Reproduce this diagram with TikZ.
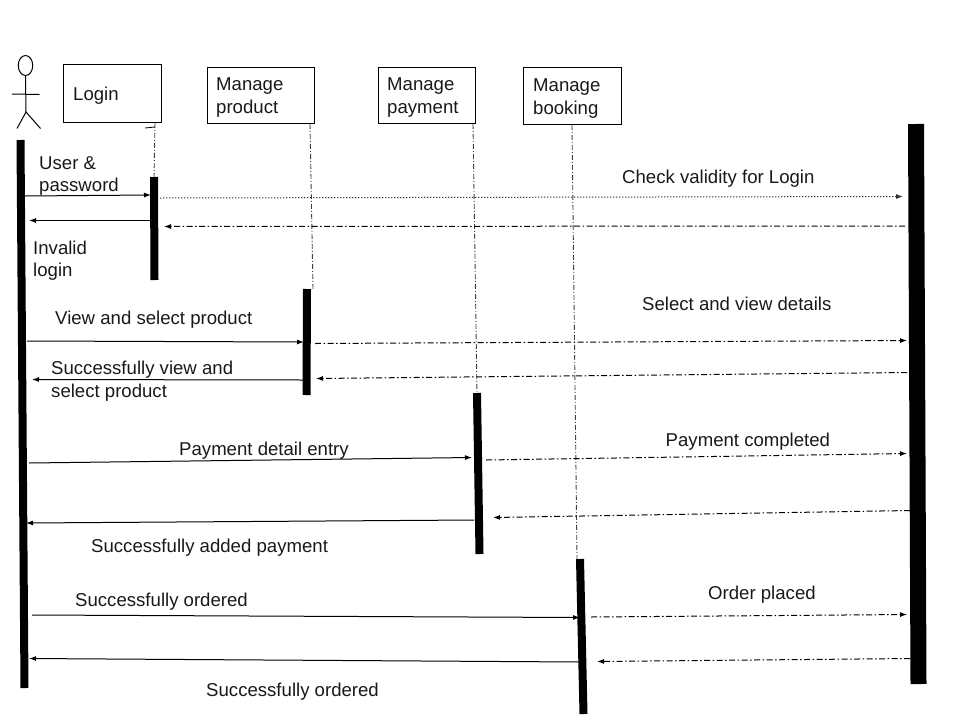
\documentclass[tikz,border=0pt]{standalone}
\usepackage{fontspec}
\setmainfont{Liberation Sans}
\usetikzlibrary{arrows.meta,shapes.geometric}
\tikzset{
  lifebox/.style={draw=black,line width=1pt,minimum width=#1,minimum height=57pt,inner sep=0pt},
  lbl/.style={anchor=base west,inner sep=0pt,font=\fontsize{18.6}{22.5}\selectfont,align=left,text=black!90},
  bar/.style={line width=#1,draw=black},
  life/.style={draw=black!75,line width=.9pt,dash pattern=on 5pt off 2pt on 1pt off 2pt},
  msg/.style={draw=black,line width=1pt,-{Latex[length=7pt,width=5pt]}},
  dd/.style={draw=black,line width=1pt,dash pattern=on 6pt off 2.5pt on 1.5pt off 2.5pt,-{Latex[length=7pt,width=5pt]}},
  dt/.style={draw=black!80,line width=1pt,dash pattern=on 1.3pt off 1.7pt,-{Latex[length=7pt,width=5pt]}},
  stick/.style={draw=black,line width=1pt}
}
\begin{document}
\begin{tikzpicture}[x=1pt,y=-1pt]
\useasboundingbox (0,0) rectangle (960,720);
% boxes
\node[lifebox=97.5pt,minimum height=58pt] (login) at (112.25,93.5) {};
\node[lifebox=107pt,minimum height=56.5pt] (product) at (260.5,95.25) {};
\node[lifebox=96.5pt,minimum height=56.5pt] (payment) at (426.75,95.25) {};
\node[lifebox=97.5pt] (booking) at (572.25,96) {};
\node[lbl] (tlogin) at (73,100.5) {Login};
\node[lbl] (tproduct) at (216,113) {Manage\\product};
\node[lbl] (tpayment) at (387,113) {Manage\\payment};
\node[lbl] (tbooking) at (533,114) {Manage\\booking};
% actor
\node[draw=black,line width=1pt,ellipse,minimum width=14.5pt,minimum height=20pt,inner sep=0pt] (head) at (25.5,65.5) {};
\coordinate (hip) at (26,112);
\coordinate (armL) at (12,94);
\coordinate (armR) at (39.5,94.5);
\coordinate (legL) at (17,128.5);
\coordinate (legR) at (40.5,128.5);
\draw[stick] (head.south) -- (hip);
\draw[stick] (armL) -- (armR);
\draw[stick] (legL) -- (hip) -- (legR);
% bar ends
\coordinate (a0) at (20.5,140); \coordinate (a1) at (24.5,688);
\coordinate (l0) at (154,177); \coordinate (l1) at (154.5,280);
\coordinate (p0) at (307,289); \coordinate (p1) at (306.5,395);
\coordinate (q0) at (477,393); \coordinate (q1) at (479.5,554);
\coordinate (b0) at (580,559); \coordinate (b1) at (583.5,714);
\coordinate (s0) at (916,124); \coordinate (s1) at (918.5,684);
% lifelines
\coordinate (lt0) at (145,128); \coordinate (lt1) at (155,127);
\coordinate (ls) at (155,123); \coordinate (ps) at (310,124); \coordinate (qs) at (473,124); \coordinate (bs) at (572,125);
\coordinate (pe) at (313,289); \coordinate (be) at (577,559);
\draw[life] (ls) -- (l0);
\draw[stick,line width=.8pt] (lt0) -- (lt1);
\draw[life] (ps) -- (pe);
\draw[life] (qs) -- (q0);
\draw[life] (bs) -- (be);
% bars
\draw[bar=8pt] (a0) -- (a1);
\draw[bar=8pt] (l0) -- (l1);
\draw[bar=8pt] (p0) -- (p1);
\draw[bar=8pt] (q0) -- (q1);
\draw[bar=8pt] (b0) -- (b1);
\draw[bar=16pt] (s0) -- (s1);
% message end points
\coordinate (m1a) at (25,196); \coordinate (m1b) at (151,195);
\coordinate (m2a) at (150,220.5); \coordinate (m2b) at (29,220.5);
\coordinate (m3a) at (160,198); \coordinate (m3b) at (903,196.5);
\coordinate (m4a) at (905,226); \coordinate (m4b) at (164,226.5);
\coordinate (m5a) at (27,341); \coordinate (m5b) at (304,342);
\coordinate (m6a) at (315,343.5); \coordinate (m6b) at (907,340.5);
\coordinate (m7a) at (303,380); \coordinate (m7b) at (32,379.5);
\coordinate (m8a) at (907,372.5); \coordinate (m8b) at (316,378.5);
\coordinate (m9a) at (29,463); \coordinate (m9b) at (472,457.5);
\coordinate (m10a) at (486,460); \coordinate (m10b) at (907,453.5);
\coordinate (m11a) at (474,520); \coordinate (m11b) at (26,523);
\coordinate (m12a) at (910,510.5); \coordinate (m12b) at (493,517.5);
\coordinate (m13a) at (32,615); \coordinate (m13b) at (580,617.5);
\coordinate (m14a) at (591,617); \coordinate (m14b) at (907,614.5);
\coordinate (m15a) at (580,662); \coordinate (m15b) at (29,658.5);
\coordinate (m16a) at (910,658.5); \coordinate (m16b) at (597,661.5);
\draw[msg] (m1a) -- (m1b);
\draw[msg] (m2a) -- (m2b);
\draw[dt] (m3a) -- (m3b);
\draw[dd] (m4a) -- (m4b);
\draw[msg] (m5a) -- (m5b);
\draw[dd] (m6a) -- (m6b);
\draw[msg] (m7a) -- (m7b);
\draw[dd] (m8a) -- (m8b);
\draw[msg] (m9a) -- (m9b);
\draw[dd] (m10a) -- (m10b);
\draw[msg] (m11a) -- (m11b);
\draw[dd] (m12a) -- (m12b);
\draw[msg] (m13a) -- (m13b);
\draw[dd] (m14a) -- (m14b);
\draw[msg] (m15a) -- (m15b);
\draw[dd] (m16a) -- (m16b);
% labels
\node[lbl] (t1) at (39,191.5) {User \&\\password};
\node[lbl] (t2) at (33,276.5) {Invalid\\login};
\node[lbl] (t3) at (622,183) {Check validity for Login};
\node[lbl] (t4) at (642,310) {Select and view details};
\node[lbl] (t5) at (55,324.5) {View and select product};
\node[lbl] (t6) at (51,397) {Successfully view and\\select product};
\node[lbl] (t7) at (179,455.5) {Payment detail entry};
\node[lbl] (t8) at (665.5,446.5) {Payment completed};
\node[lbl] (t9) at (91,552) {Successfully added payment};
\node[lbl] (t10) at (75,606) {Successfully ordered};
\node[lbl] (t11) at (708,599) {Order placed};
\node[lbl] (t12) at (206,696) {Successfully ordered};
\end{tikzpicture}
\end{document}
